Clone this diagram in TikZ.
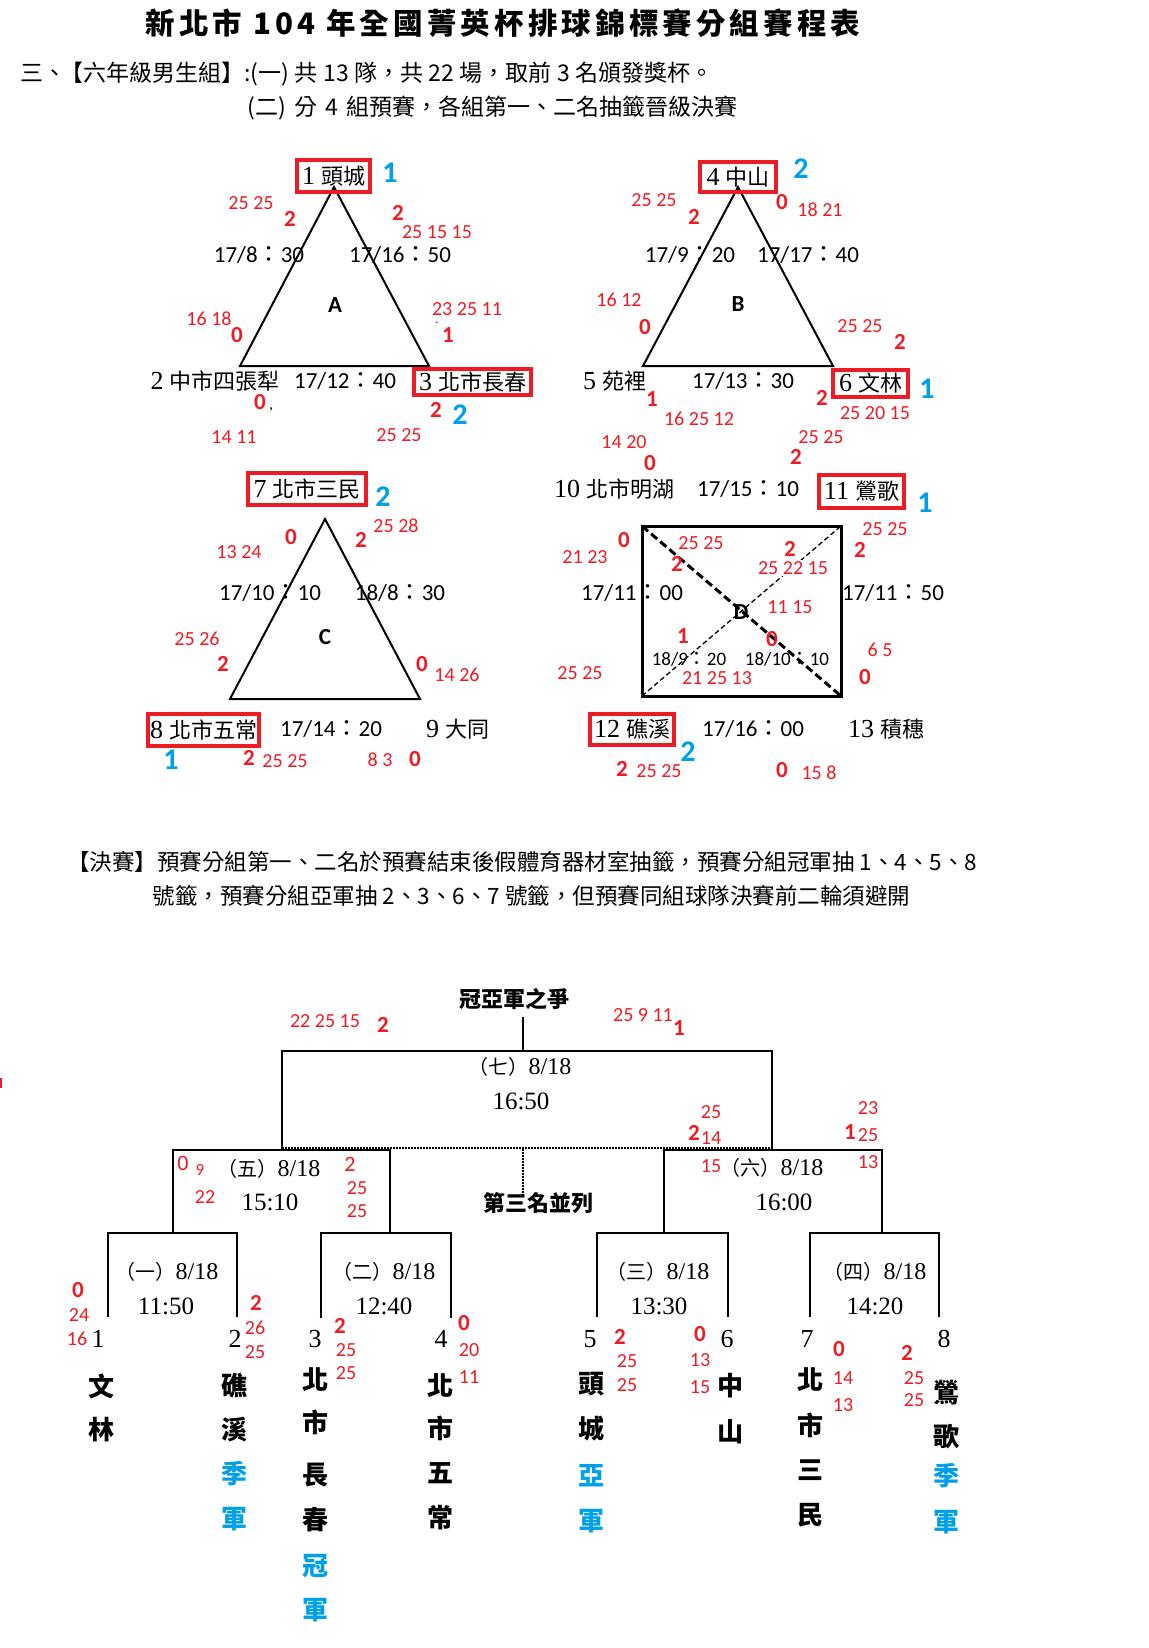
\documentclass[tikz,border=0pt]{standalone}
\usepackage{fontspec}
\setmainfont{Noto Sans CJK TC}
\newfontfamily\cjk{Noto Sans CJK TC}
\newfontfamily\calfont{Carlito}
\newfontfamily\serf{Liberation Serif}
\definecolor{rd}{HTML}{ED1C24}
\definecolor{bl}{HTML}{00A0E9}
\newcommand\fsz[1]{\fontsize{#1}{#1}\selectfont}
\newcommand\sd[1]{{\serf\fsz{26}#1}}
\newcommand\sdx[2]{{\serf\fsz{#1}#2}}
\newcommand\cc{{\cjk ：}}
\newcommand\hsq{\hspace{8pt}}
\newcommand\hsr{\hspace{5.5pt}}
\tikzset{
 every node/.style={inner sep=0pt,outer sep=0pt},
 rs/.style={text=rd,font=\calfont\fsz{20}},
 rb/.style={text=rd,font=\calfont\bfseries\fsz{23}},
 bn/.style={text=bl,font=\calfont\bfseries\fsz{30}},
 tmx/.style={font=\calfont\fsz{23}},
 tms/.style={font=\calfont\fsz{19}},
 grp/.style={font=\calfont\bfseries\fsz{23}},
 team/.style={font=\cjk\fsz{22}},
 tbox/.style={team,draw=rd,line width=4pt},
 tri/.style={draw,line width=2pt,line join=miter},
 hdr/.style={font=\cjk\fsz{22.5}},
 blab/.style={font=\cjk\fsz{20}},
 btm/.style={font=\serf\fsz{25}},
 bt/.style={font=\cjk\bfseries\fsz{22}},
 vn/.style={font=\cjk\bfseries\fsz{26}},
 seed/.style={font=\serf\fsz{26}},
 brk/.style={line width=2pt},
 dotl/.style={line width=1.5pt,dash pattern=on 1.5pt off 1.5pt},
}
\begin{document}
\begin{tikzpicture}[x=1pt,y=-1pt]
\path[use as bounding box,fill=white] (0,0) rectangle (1148,1648);

% ---------- headers ----------
\node[font=\cjk\bfseries\fsz{29.5}\addfontfeatures{LetterSpace=14}] (title) at (503,23) {新北市 104 年全國菁英杯排球錦標賽分組賽程表};
\node[font=\cjk\fsz{23}] (h1) at (367,74) {三、\hspace{-6pt}【六年級男生組】:(一)\hsr 共\hsr 13\hsr 隊，共\hsr 22\hsr 場，取前\hsr 3\hsr 名頒發獎杯。};
\node[font=\cjk\fsz{23}] (h2) at (492.5,108) {(二)\hsq 分\hsq 4\hsq 組預賽，各組第一、二名抽籤晉級決賽};

% ---------- group A ----------
\coordinate (Aa) at (334,187); \coordinate (Ab) at (240,366); \coordinate (Ac) at (429,366);
\draw[tri] (Aa)--(Ab)--(Ac)--cycle;
\node[tbox,minimum width=73pt,minimum height=32pt] (a1) at (333.5,176) {\sd{1}\hspace{6pt}頭城};
\node[bn] (a1r) at (390,173) {1};
\node[team] (a2) at (215,381) {\sd{2}\hspace{6pt}中市四張犁};
\node[tbox,minimum width=117pt,minimum height=26pt] (a3) at (472.5,382) {\sd{3}\hspace{6pt}北市長春};
\node[bn] (a3r) at (460,415) {2};
\node[tmx] (ta1) at (259,255) {17/8\cc 30};
\node[tmx] (ta2) at (400,255) {17/16\cc 50};
\node[tmx] (ta3) at (345,381) {17/12\cc 40};
\node[grp] (gA) at (335,305) {A};
\node[rs] (ra1) at (251,203) {25 25};
\node[rs] (ra2) at (437,232) {25 15 15};
\node[rs] (ra3) at (209,319) {16 18};
\node[rs] (ra4) at (467,309) {23 25 11};
\node[rs] (ra5) at (234,437) {14 11};
\node[rs] (ra6) at (399,435) {25 25};
\node[rb] (sa1) at (290,219) {2};
\node[rb] (sa2) at (398,213) {2};
\node[rb] (sa3) at (237,335) {0};
\node[rb] (sa4) at (448,335) {1};
\node[rb] (sa5) at (260,402) {0};
\node[rb] (sa6) at (436,410) {2};
\node[font=\calfont\fsz{10}] (xa1) at (437,324) {-};
\node[font=\calfont\fsz{16}] (xa2) at (271,410) {,};

% ---------- group B ----------
\coordinate (Ba) at (738,187); \coordinate (Bb) at (643,366); \coordinate (Bc) at (833,366);
\draw[tri] (Ba)--(Bb)--(Bc)--cycle;
\node[tbox,minimum width=76pt,minimum height=30pt] (b4) at (738,177) {\sd{4}\hspace{6pt}中山};
\node[bn] (b4r) at (801,169) {2};
\node[team] (b5) at (614.5,381) {\sd{5}\hspace{6pt}苑裡};
\node[tbox,minimum width=75pt,minimum height=27pt] (b6) at (870.5,383.5) {\sd{6}\hspace{6pt}文林};
\node[bn] (b6r) at (927,389) {1};
\node[tmx] (tb1) at (690,255) {17/9\cc 20};
\node[tmx] (tb2) at (808,255) {17/17\cc 40};
\node[tmx] (tb3) at (743,381) {17/13\cc 30};
\node[grp] (gB) at (738,304) {B};
\node[rs] (rb1) at (654,200) {25 25};
\node[rs] (rb2) at (820,210) {18 21};
\node[rs] (rb3) at (619,300) {16 12};
\node[rs] (rb4) at (860,326) {25 25};
\node[rs] (rb5) at (699,419) {16 25 12};
\node[rs] (rb6) at (875,413) {25 20 15};
\node[rs] (rb7) at (624,442) {14 20};
\node[rs] (rb8) at (821,437) {25 25};
\node[rb] (sb1) at (694,217) {2};
\node[rb] (sb2) at (782,202) {0};
\node[rb] (sb3) at (645,327) {0};
\node[rb] (sb4) at (900,342) {2};
\node[rb] (sb5) at (652,399) {1};
\node[rb] (sb6) at (822,398) {2};
\node[rb] (sb7) at (650,463) {0};
\node[rb] (sb8) at (796,457) {2};

% ---------- group C ----------
\coordinate (Ca) at (325,519); \coordinate (Cb) at (230,699); \coordinate (Cc) at (420,699);
\draw[tri] (Ca)--(Cb)--(Cc)--cycle;
\node[tbox,minimum width=118pt,minimum height=32pt] (c7) at (307,489) {\sd{7}\hspace{6pt}北市三民};
\node[bn] (c7r) at (383,497) {2};
\node[tbox,minimum width=111pt,minimum height=32pt] (c8) at (203.5,730) {\sd{8}\hspace{6pt}北市五常};
\node[bn] (c8r) at (171,760) {1};
\node[team] (c9) at (457.5,729) {\sd{9}\hspace{6pt}大同};
\node[tmx] (tc1) at (270,593) {17/10\cc 10};
\node[tmx] (tc2) at (400,593) {18/8\cc 30};
\node[tmx] (tc3) at (331,729) {17/14\cc 20};
\node[grp] (gC) at (325,637) {C};
\node[rs] (rc1) at (239,552) {13 24};
\node[rs] (rc2) at (396,526) {25 28};
\node[rs] (rc3) at (197,639) {25 26};
\node[rs] (rc4) at (457,675) {14 26};
\node[rs] (rc5) at (285,761) {25 25};
\node[rs] (rc6) at (380,760) {8 3};
\node[rb] (sc1) at (291,537) {0};
\node[rb] (sc2) at (361,540) {2};
\node[rb] (sc3) at (223,664) {2};
\node[rb] (sc4) at (422,664) {0};
\node[rb] (sc5) at (249,758) {2};
\node[rb] (sc6) at (415,759) {0};

% ---------- group D ----------
\coordinate (D1) at (642,526); \coordinate (D2) at (841,526);
\coordinate (D3) at (841,696); \coordinate (D4) at (642,696);
\draw[line width=1.3pt,dash pattern=on 5pt off 3pt] (D4)--(D2);
\draw[line width=3pt,dash pattern=on 8pt off 4pt] (D1)--(D3);
\draw[line width=3pt] (D1) rectangle (D3);
\node[team] (d10) at (614,489) {\sd{10}\hspace{6pt}北市明湖};
\node[tbox,minimum width=85pt,minimum height=33pt] (d11) at (861.5,491.5) {\sd{11}\hspace{6pt}鶯歌};
\node[bn] (d11r) at (925,503) {1};
\node[tbox,minimum width=84pt,minimum height=31pt] (d12) at (632,729.5) {\sd{12}\hspace{6pt}礁溪};
\node[bn] (d12r) at (688,752) {2};
\node[team] (d13) at (886,729) {\sd{13}\hspace{6pt}積穗};
\node[tmx] (td1) at (748,489) {17/15\cc 10};
\node[tmx] (td2) at (632,593) {17/11\cc 00};
\node[tmx] (td3) at (893,593) {17/11\cc 50};
\node[tmx] (td4) at (753,729) {17/16\cc 00};
\node[tms] (td5) at (689,659) {18/9\cc 20};
\node[tms] (td6) at (787,659) {18/10\cc 10};
\node[grp] (gD) at (741,612) {D};
\node[rs] (rd1) at (585,557) {21 23};
\node[rs] (rd2) at (701,543) {25 25};
\node[rs,fill=white,inner sep=1pt] (rd3) at (793,568) {25 22 15};
\node[rs] (rd4) at (885,529) {25 25};
\node[rs] (rd5) at (790,607) {11 15};
\node[rs] (rd6) at (717,678) {21 25 13};
\node[rs] (rd7) at (880,650) {6 5};
\node[rs] (rd8) at (580,673) {25 25};
\node[rs] (rd9) at (659,771) {25 25};
\node[rs] (rd10) at (819,773) {15 8};
\node[rb] (sd1) at (624,540) {0};
\node[rb] (sd2) at (677,564) {2};
\node[rb,fill=white,inner sep=1pt] (sd3) at (790,549) {2};
\node[rb] (sd4) at (860,550) {2};
\node[rb] (sd5) at (683,636) {1};
\node[rb] (sd6) at (772,639) {0};
\node[rb] (sd7) at (865,677) {0};
\node[rb] (sd8) at (622,769) {2};
\node[rb] (sd9) at (782,770) {0};

% ---------- finals text ----------
\node[hdr] (f1) at (522,862) {【決賽】預賽分組第一、二名於預賽結束後假體育器材室抽籤，預賽分組冠軍抽 1、4、5、8};
\node[hdr] (f2) at (531.5,896) {號籤，預賽分組亞軍抽 2、3、6、7 號籤，但預賽同組球隊決賽前二輪須避開};

% ---------- bracket ----------
\node[bt] (final) at (514,999) {冠亞軍之爭};
\draw[brk] (523,1017) -- (523,1051);
\draw[brk] (282,1149) -- (282,1051) -- (772,1051) -- (772,1149);
\draw[dotl] (282,1148) -- (772,1148);
\draw[dotl] (523,1149) -- (523,1195);
\draw[brk] (173,1233) -- (173,1150) -- (390,1150) -- (390,1233);
\draw[brk] (664,1233) -- (664,1150) -- (882,1150) -- (882,1233);
\draw[brk] (108,1317) -- (108,1233) -- (237,1233) -- (237,1317);
\draw[brk] (321,1318) -- (321,1233) -- (451,1233) -- (451,1318);
\draw[brk] (597,1317) -- (597,1233) -- (728,1233) -- (728,1317);
\draw[brk] (810,1317) -- (810,1233) -- (939,1233) -- (939,1317);
\draw[rd,line width=1.5pt] (1,1078) -- (1,1088);

\node[blab] (m7) at (520,1067) {（七）\sdx{24}{8/18}};
\node[btm] (m7t) at (521,1101) {16:50};
\node[blab] (m5) at (269,1169) {（五）\sdx{24}{8/18}};
\node[btm] (m5t) at (270,1202) {15:10};
\node[blab] (m6) at (772,1168) {（六）\sdx{24}{8/18}};
\node[btm] (m6t) at (784,1202) {16:00};
\node[blab] (m1) at (167,1272) {（一）\sdx{24}{8/18}};
\node[btm] (m1t) at (166,1306) {11:50};
\node[blab] (m2) at (384,1272) {（二）\sdx{24}{8/18}};
\node[btm] (m2t) at (384,1306) {12:40};
\node[blab] (m3) at (658,1272) {（三）\sdx{24}{8/18}};
\node[btm] (m3t) at (659,1306) {13:30};
\node[blab] (m4) at (875,1272) {（四）\sdx{24}{8/18}};
\node[btm] (m4t) at (875,1306) {14:20};
\node[bt] (third) at (538,1203) {第三名並列};

% red scores in bracket
\node[rs] (q1) at (325,1021) {22 25 15};
\node[rs] (q2) at (643,1015) {25 9 11};
\node[rs] (q3) at (711,1112) {25};
\node[rs] (q4) at (711,1138) {14};
\node[rs] (q5) at (868,1108) {23};
\node[rs] (q6) at (868,1135) {25};
\node[rs] (q7) at (868,1162) {13};
\node[rs] (q8) at (357,1188) {25};
\node[rs] (q9) at (205,1197) {22};
\node[rs] (q10) at (357,1211) {25};
\node[rs] (q11) at (711,1166) {15};
\node[rs] (q12) at (79,1315) {24};
\node[rs] (q13) at (77,1339) {16};
\node[rs] (q14) at (255,1328) {26};
\node[rs] (q15) at (255,1352) {25};
\node[rs] (q16) at (346,1350) {25};
\node[rs] (q17) at (346,1373) {25};
\node[rs] (q18) at (469,1350) {20};
\node[rs] (q19) at (469,1377) {11};
\node[rs] (q20) at (627,1361) {25};
\node[rs] (q21) at (627,1385) {25};
\node[rs] (q22) at (700,1360) {13};
\node[rs] (q23) at (700,1387) {15};
\node[rs] (q24) at (843,1378) {14};
\node[rs] (q25) at (843,1405) {13};
\node[rs] (q26) at (914,1378) {25};
\node[rs] (q27) at (914,1400) {25};
\node[rs,font=\calfont\fsz{22}] (q28) at (183,1163) {0};
\node[rs,font=\calfont\fsz{17}] (q29) at (200,1170) {9};
\node[rs,font=\calfont\fsz{22}] (q30) at (350,1164) {2};
\node[rb] (w1) at (383,1025) {2};
\node[rb] (w2) at (679,1028) {1};
\node[rb] (w3) at (694,1133) {2};
\node[rb] (w4) at (850,1132) {1};
\node[rb] (w5) at (78,1290) {0};
\node[rb] (w6) at (256,1303) {2};
\node[rb] (w7) at (340,1326) {2};
\node[rb] (w8) at (464,1323) {0};
\node[rb] (w9) at (620,1337) {2};
\node[rb] (w10) at (700,1334) {0};
\node[rb] (w11) at (839,1349) {0};
\node[rb] (w12) at (907,1353) {2};

% seeds
\node[seed] (s1) at (98,1339) {1};
\node[seed] (s2) at (235,1339) {2};
\node[seed] (s3) at (315,1339) {3};
\node[seed] (s4) at (441,1339) {4};
\node[seed] (s5) at (590,1339) {5};
\node[seed] (s6) at (727,1339) {6};
\node[seed] (s7) at (807,1339) {7};
\node[seed] (s8) at (944,1339) {8};

% vertical names
\foreach \c/\yy/\col [count=\i] in {文/1386/black,林/1430/black}
  \node[vn,text=\col] (n1-\i) at (101,\yy) {\c};
\foreach \c/\yy/\col [count=\i] in {礁/1386/black,溪/1430/black,季/1474/bl,軍/1519/bl}
  \node[vn,text=\col] (n2-\i) at (234,\yy) {\c};
\foreach \c/\yy/\col [count=\i] in {北/1380/black,市/1422/black,長/1475/black,春/1520/black,冠/1566/bl,軍/1610/bl}
  \node[vn,text=\col] (n3-\i) at (315,\yy) {\c};
\foreach \c/\yy/\col [count=\i] in {北/1386/black,市/1428/black,五/1473/black,常/1518/black}
  \node[vn,text=\col] (n4-\i) at (440,\yy) {\c};
\foreach \c/\yy/\col [count=\i] in {頭/1384/black,城/1429/black,亞/1476/bl,軍/1521/bl}
  \node[vn,text=\col] (n5-\i) at (591,\yy) {\c};
\foreach \c/\yy/\col [count=\i] in {中/1386/black,山/1432/black}
  \node[vn,text=\col] (n6-\i) at (730,\yy) {\c};
\foreach \c/\yy/\col [count=\i] in {北/1380/black,市/1425/black,三/1470/black,民/1515/black}
  \node[vn,text=\col] (n7-\i) at (810,\yy) {\c};
\foreach \c/\yy/\col [count=\i] in {鶯/1393/black,歌/1437/black,季/1476/bl,軍/1522/bl}
  \node[vn,text=\col] (n8-\i) at (946,\yy) {\c};
\end{tikzpicture}
\end{document}
